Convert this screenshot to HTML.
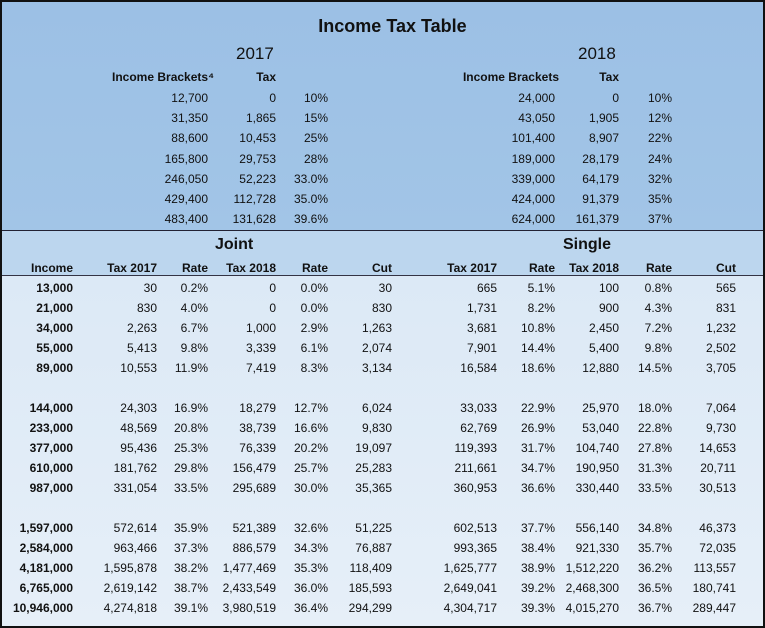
<!DOCTYPE html>
<html><head><meta charset="utf-8"><style>
*{margin:0;padding:0;box-sizing:border-box}
body{width:765px;height:628px;overflow:hidden;background:#fff;font-family:"Liberation Sans",Arial,sans-serif;font-size:12px;color:#111}
#f{position:absolute;left:0;top:0;width:765px;height:628px;border:2px solid #111;overflow:hidden}
#top{position:absolute;left:0;top:0;width:761px;height:229px;background:linear-gradient(#9cc0e5,#a2c5e7);border-bottom:1.5px solid #223}
#hd{position:absolute;left:0;top:229px;width:761px;height:45px;background:#bcd6ee;border-bottom:1px solid #334}
#bd{position:absolute;left:0;top:274px;width:761px;height:352px;background:linear-gradient(#dce9f6,#e6eff8)}
.r{position:absolute;left:0;width:761px;height:20px;line-height:20px}
.r span{position:absolute;width:110px;text-align:right;top:0}
.b{font-weight:bold}
.a{left:-39px}.bb{left:45px}.c{left:96px}.d{left:164px}.e{left:216px}.ff{left:280px}
.g{left:385px}.h{left:443px}.i{left:507px}.j{left:560px}.k{left:624px}
.t{position:absolute;width:761px;text-align:center}
</style></head><body><div id="f">
<div id="top"></div><div id="hd"></div><div id="bd"></div>
<div class="t b" style="top:14px;font-size:18px;left:10px">Income Tax Table</div>
<div style="position:absolute;left:234px;top:42px;font-size:17px">2017</div>
<div style="position:absolute;left:576px;top:42px;font-size:17px">2018</div>
<div class="r b" style="top:65px"><span class="c" style="left:72px;width:140px">Income Brackets⁴</span><span class="d">Tax</span><span class="h" style="left:447px">Income Brackets</span><span class="i">Tax</span></div>
<div class="r" style="top:86px"><span class="c">12,700</span><span class="d">0</span><span class="e">10%</span><span class="h">24,000</span><span class="i">0</span><span class="j">10%</span></div>
<div class="r" style="top:106px"><span class="c">31,350</span><span class="d">1,865</span><span class="e">15%</span><span class="h">43,050</span><span class="i">1,905</span><span class="j">12%</span></div>
<div class="r" style="top:126px"><span class="c">88,600</span><span class="d">10,453</span><span class="e">25%</span><span class="h">101,400</span><span class="i">8,907</span><span class="j">22%</span></div>
<div class="r" style="top:147px"><span class="c">165,800</span><span class="d">29,753</span><span class="e">28%</span><span class="h">189,000</span><span class="i">28,179</span><span class="j">24%</span></div>
<div class="r" style="top:167px"><span class="c">246,050</span><span class="d">52,223</span><span class="e">33.0%</span><span class="h">339,000</span><span class="i">64,179</span><span class="j">32%</span></div>
<div class="r" style="top:187px"><span class="c">429,400</span><span class="d">112,728</span><span class="e">35.0%</span><span class="h">424,000</span><span class="i">91,379</span><span class="j">35%</span></div>
<div class="r" style="top:207px"><span class="c">483,400</span><span class="d">131,628</span><span class="e">39.6%</span><span class="h">624,000</span><span class="i">161,379</span><span class="j">37%</span></div>
<div class="b" style="position:absolute;left:213px;top:234px;font-size:16px">Joint</div>
<div class="b" style="position:absolute;left:561px;top:234px;font-size:16px">Single</div>
<div class="r b" style="top:256px"><span class="a">Income</span><span class="bb">Tax 2017</span><span class="c">Rate</span><span class="d">Tax 2018</span><span class="e">Rate</span><span class="ff">Cut</span><span class="g">Tax 2017</span><span class="h">Rate</span><span class="i">Tax 2018</span><span class="j">Rate</span><span class="k">Cut</span></div>
<div class="r" style="top:276px"><span class="a b">13,000</span><span class="bb">30</span><span class="c">0.2%</span><span class="d">0</span><span class="e">0.0%</span><span class="ff">30</span><span class="g">665</span><span class="h">5.1%</span><span class="i">100</span><span class="j">0.8%</span><span class="k">565</span></div>
<div class="r" style="top:296px"><span class="a b">21,000</span><span class="bb">830</span><span class="c">4.0%</span><span class="d">0</span><span class="e">0.0%</span><span class="ff">830</span><span class="g">1,731</span><span class="h">8.2%</span><span class="i">900</span><span class="j">4.3%</span><span class="k">831</span></div>
<div class="r" style="top:316px"><span class="a b">34,000</span><span class="bb">2,263</span><span class="c">6.7%</span><span class="d">1,000</span><span class="e">2.9%</span><span class="ff">1,263</span><span class="g">3,681</span><span class="h">10.8%</span><span class="i">2,450</span><span class="j">7.2%</span><span class="k">1,232</span></div>
<div class="r" style="top:336px"><span class="a b">55,000</span><span class="bb">5,413</span><span class="c">9.8%</span><span class="d">3,339</span><span class="e">6.1%</span><span class="ff">2,074</span><span class="g">7,901</span><span class="h">14.4%</span><span class="i">5,400</span><span class="j">9.8%</span><span class="k">2,502</span></div>
<div class="r" style="top:356px"><span class="a b">89,000</span><span class="bb">10,553</span><span class="c">11.9%</span><span class="d">7,419</span><span class="e">8.3%</span><span class="ff">3,134</span><span class="g">16,584</span><span class="h">18.6%</span><span class="i">12,880</span><span class="j">14.5%</span><span class="k">3,705</span></div>
<div class="r" style="top:396px"><span class="a b">144,000</span><span class="bb">24,303</span><span class="c">16.9%</span><span class="d">18,279</span><span class="e">12.7%</span><span class="ff">6,024</span><span class="g">33,033</span><span class="h">22.9%</span><span class="i">25,970</span><span class="j">18.0%</span><span class="k">7,064</span></div>
<div class="r" style="top:416px"><span class="a b">233,000</span><span class="bb">48,569</span><span class="c">20.8%</span><span class="d">38,739</span><span class="e">16.6%</span><span class="ff">9,830</span><span class="g">62,769</span><span class="h">26.9%</span><span class="i">53,040</span><span class="j">22.8%</span><span class="k">9,730</span></div>
<div class="r" style="top:436px"><span class="a b">377,000</span><span class="bb">95,436</span><span class="c">25.3%</span><span class="d">76,339</span><span class="e">20.2%</span><span class="ff">19,097</span><span class="g">119,393</span><span class="h">31.7%</span><span class="i">104,740</span><span class="j">27.8%</span><span class="k">14,653</span></div>
<div class="r" style="top:456px"><span class="a b">610,000</span><span class="bb">181,762</span><span class="c">29.8%</span><span class="d">156,479</span><span class="e">25.7%</span><span class="ff">25,283</span><span class="g">211,661</span><span class="h">34.7%</span><span class="i">190,950</span><span class="j">31.3%</span><span class="k">20,711</span></div>
<div class="r" style="top:476px"><span class="a b">987,000</span><span class="bb">331,054</span><span class="c">33.5%</span><span class="d">295,689</span><span class="e">30.0%</span><span class="ff">35,365</span><span class="g">360,953</span><span class="h">36.6%</span><span class="i">330,440</span><span class="j">33.5%</span><span class="k">30,513</span></div>
<div class="r" style="top:516px"><span class="a b">1,597,000</span><span class="bb">572,614</span><span class="c">35.9%</span><span class="d">521,389</span><span class="e">32.6%</span><span class="ff">51,225</span><span class="g">602,513</span><span class="h">37.7%</span><span class="i">556,140</span><span class="j">34.8%</span><span class="k">46,373</span></div>
<div class="r" style="top:536px"><span class="a b">2,584,000</span><span class="bb">963,466</span><span class="c">37.3%</span><span class="d">886,579</span><span class="e">34.3%</span><span class="ff">76,887</span><span class="g">993,365</span><span class="h">38.4%</span><span class="i">921,330</span><span class="j">35.7%</span><span class="k">72,035</span></div>
<div class="r" style="top:556px"><span class="a b">4,181,000</span><span class="bb">1,595,878</span><span class="c">38.2%</span><span class="d">1,477,469</span><span class="e">35.3%</span><span class="ff">118,409</span><span class="g">1,625,777</span><span class="h">38.9%</span><span class="i">1,512,220</span><span class="j">36.2%</span><span class="k">113,557</span></div>
<div class="r" style="top:576px"><span class="a b">6,765,000</span><span class="bb">2,619,142</span><span class="c">38.7%</span><span class="d">2,433,549</span><span class="e">36.0%</span><span class="ff">185,593</span><span class="g">2,649,041</span><span class="h">39.2%</span><span class="i">2,468,300</span><span class="j">36.5%</span><span class="k">180,741</span></div>
<div class="r" style="top:596px"><span class="a b">10,946,000</span><span class="bb">4,274,818</span><span class="c">39.1%</span><span class="d">3,980,519</span><span class="e">36.4%</span><span class="ff">294,299</span><span class="g">4,304,717</span><span class="h">39.3%</span><span class="i">4,015,270</span><span class="j">36.7%</span><span class="k">289,447</span></div>
</div></body></html>
